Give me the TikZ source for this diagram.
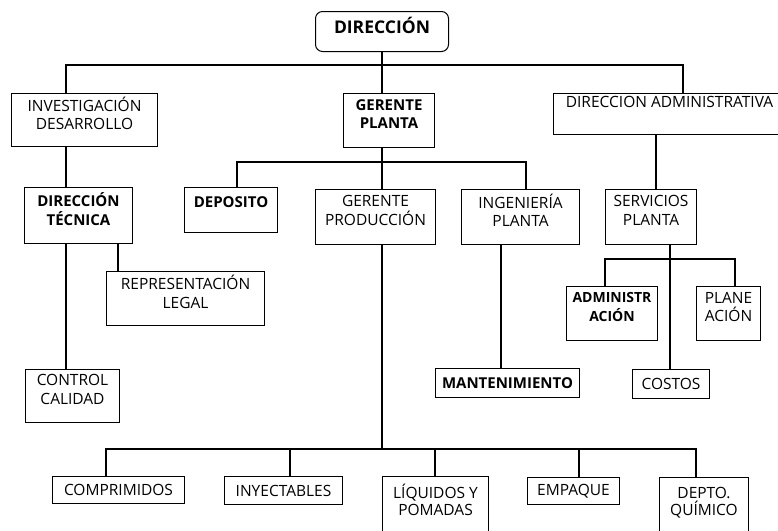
\documentclass[tikz,border=0pt]{standalone}
\usepackage{fontspec}
\setmainfont{Open Sans}
\usepackage{tikz}

\tikzset{
  caja/.style={draw, line width=1pt, anchor=north west, align=center,
    inner sep=1pt, font=\fontsize{15.5}{18.5}\selectfont},
  jefe/.style={caja, font=\fontsize{15}{18.5}\selectfont\bfseries},
  dos/.style={text depth=13pt},
  arriba/.style={minimum height=0pt, text height=#1, inner ysep=2pt},
  linea/.style={line width=1.2pt}
}

\begin{document}
\begin{tikzpicture}[x=1pt, y=-1pt]
      \useasboundingbox (0,0) rectangle (778,530);
      \clip (0,0) rectangle (778,530);

      \node[jefe, font=\fontsize{17.5}{20}\selectfont\bfseries, rounded corners=7pt, minimum width=133pt, minimum height=40pt, text depth=12pt] (dir) at (315,11) {DIRECCIÓN};

      \node[caja, dos, minimum width=146pt, minimum height=53pt] (inv) at (11,93) {INVESTIGACIÓN\\DESARROLLO};
      \node[jefe, dos, minimum width=91pt, minimum height=54pt] (gerpl) at (343,93) {GERENTE\\PLANTA};
      \node[caja, minimum width=232pt, arriba=12pt, text depth=25pt] (dadm) at (553,93) {DIRECCION ADMINISTRATIVA};

      \node[jefe, dos, minimum width=108pt, minimum height=56pt] (dtec) at (24,187) {DIRECCIÓN\\TÉCNICA};
      \node[jefe, minimum width=93pt, arriba=18pt, text depth=23pt] (dep) at (184,187) {DEPOSITO};
      \node[caja, dos, minimum width=120pt, minimum height=55pt] (gprod) at (315,189) {GERENTE\\PRODUCCIÓN};
      \node[caja, dos, minimum width=118pt, minimum height=55pt] (ing) at (461,189) {INGENIERÍA\\PLANTA};
      \node[caja, dos, minimum width=91pt, minimum height=55pt] (serv) at (605,189) {SERVICIOS\\PLANTA};

      \node[caja, dos, minimum width=158pt, minimum height=54pt] (rep) at (106,271) {REPRESENTACIÓN\\LEGAL};
      \node[jefe, dos, font=\fontsize{14}{18.5}\selectfont\bfseries, minimum width=91pt, minimum height=54pt] (admin) at (566,286) {ADMINISTR\\ACIÓN};
      \node[caja, dos, minimum width=64pt, minimum height=54pt] (plan) at (696,286) {PLANE\\ACIÓN};

      \node[caja, dos, minimum width=94pt, minimum height=53pt] (ctrl) at (25,369) {CONTROL\\CALIDAD};
      \node[jefe, minimum width=144pt, minimum height=29pt] (mant) at (435,368) {MANTENIMIENTO};
      \node[caja, minimum width=77pt, minimum height=29pt] (cost) at (632,369) {COSTOS};

      \node[caja, minimum width=132pt, minimum height=27pt] (comp) at (52,476) {COMPRIMIDOS};
      \node[caja, minimum width=118pt, minimum height=28pt] (iny) at (224,476) {INYECTABLES};
      \node[caja, font=\fontsize{15.5}{17}\selectfont, minimum width=106pt, minimum height=64pt] (liq) at (382,476) {LÍQUIDOS Y\\POMADAS\\ \mbox{}};
      \node[caja, minimum width=92pt, minimum height=27pt] (emp) at (527,477) {EMPAQUE};
      \node[caja, font=\fontsize{15.5}{17}\selectfont, minimum width=89pt, minimum height=64pt] (depto) at (659,477) {DEPTO.\\QUÍMICO\\ \mbox{}};

      % direccion
      \coordinate (b1) at (66,65);
      \coordinate (b2) at (683,65);
      \draw[linea] (dir.south) -- (dir.south |- gerpl.north);
      \draw[linea] (b1 |- inv.north) -- (b1) -- (b2) -- (b2 |- dadm.north);

      % investigacion
      \draw[linea] (b1 |- inv.south) -- (b1 |- dtec.north);
      \draw[linea] (b1 |- dtec.south) -- (b1 |- ctrl.north);
      \coordinate (r1) at (118,243);
      \draw[linea] (r1) -- (r1 |- rep.north);

      % gerente planta
      \coordinate (g1) at (237,162);
      \coordinate (g2) at (526,162);
      \draw[linea] (dir.south |- gerpl.south) -- (dir.south |- gprod.north);
      \draw[linea] (g1 |- dep.north) -- (g1) -- (g2) -- (g2 |- ing.north);
      \coordinate (m1) at (501,244);
      \draw[linea] (m1) -- (m1 |- mant.north);

      % administrativa
      \coordinate (a0) at (656,134);
      \draw[linea] (a0) -- (a0 |- serv.north);
      \coordinate (s0) at (670,244);
      \coordinate (s1) at (605,259);
      \coordinate (s2) at (735,259);
      \draw[linea] (s0) -- (s0 |- cost.north);
      \draw[linea] (s1 |- admin.north) -- (s1) -- (s2) -- (s2 |- plan.north);

      % produccion
      \coordinate (p1) at (106,449);
      \coordinate (p2) at (290,449);
      \coordinate (p3) at (435,449);
      \coordinate (p4) at (579,449);
      \coordinate (p5) at (696,449);
      \draw[linea] (dir.south |- gprod.south) -- (dir.south |- p1);
      \draw[linea] (p1 |- comp.north) -- (p1) -- (p5) -- (p5 |- depto.north);
      \draw[linea] (p2) -- (p2 |- iny.north);
      \draw[linea] (p3) -- (p3 |- liq.north);
      \draw[linea] (p4) -- (p4 |- emp.north);
\end{tikzpicture}
\end{document}
